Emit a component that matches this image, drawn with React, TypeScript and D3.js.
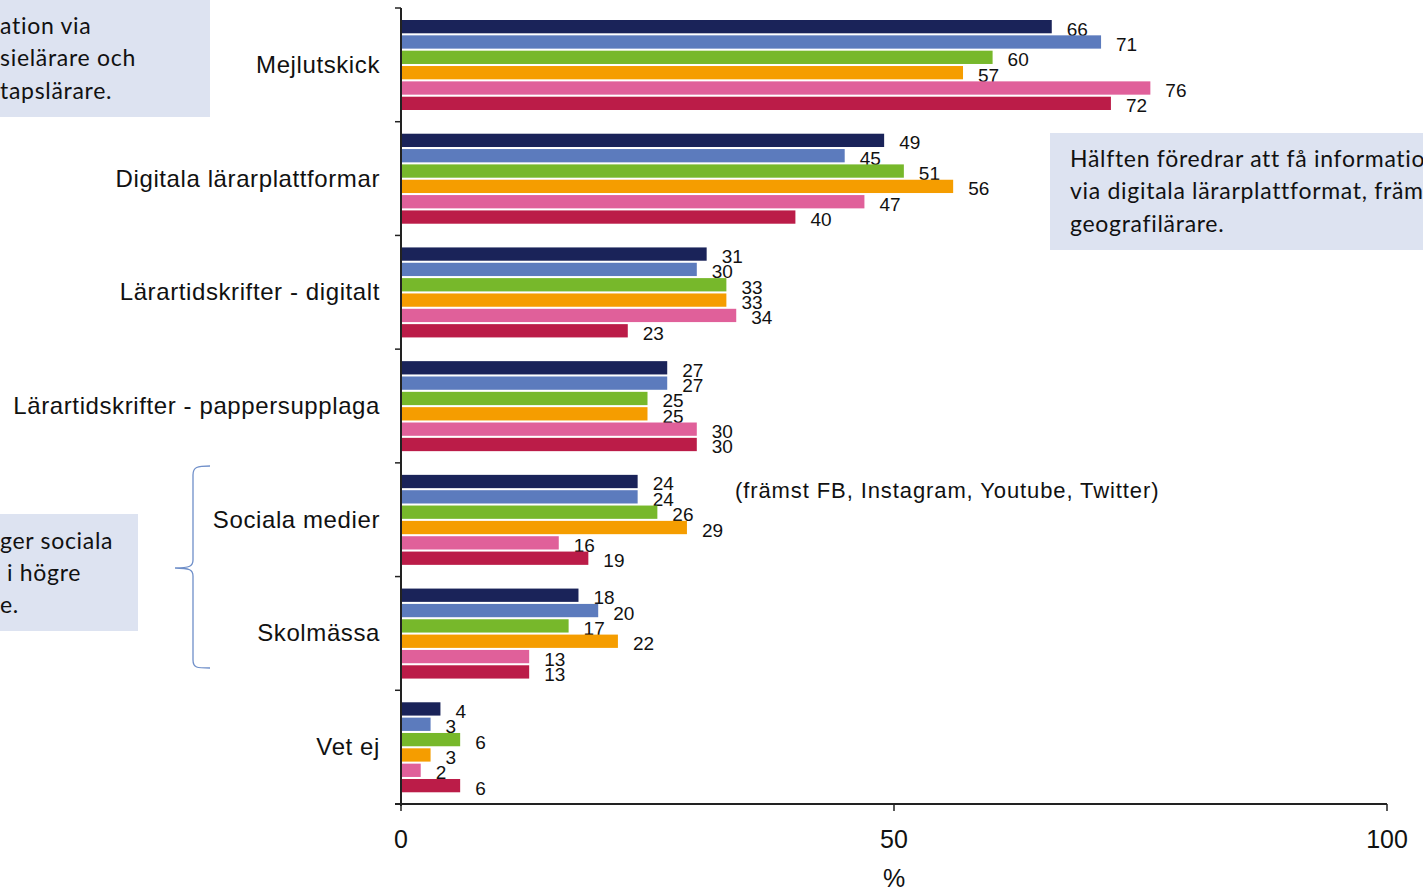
import * as d3 from "d3";

const categories = [
  "Mejlutskick",
  "Digitala lärarplattformar",
  "Lärartidskrifter - digitalt",
  "Lärartidskrifter - pappersupplaga",
  "Sociala medier",
  "Skolmässa",
  "Vet ej",
];

const seriesNames = ["s1", "s2", "s3", "s4", "s5", "s6"];
const seriesColors = ["#1a2359", "#5c7bbd", "#77b82b", "#f59d00", "#e0609a", "#bb1c48"];

const s1 = [66, 49, 31, 27, 24, 18, 4];
const s2 = [71, 45, 30, 27, 24, 20, 3];
const s3 = [60, 51, 33, 25, 26, 17, 6];
const s4 = [57, 56, 33, 25, 29, 22, 3];
const s5 = [76, 47, 34, 30, 16, 13, 2];
const s6 = [72, 40, 23, 30, 19, 13, 6];
const seriesValues = [s1, s2, s3, s4, s5, s6];

const xTicks = [0, 50, 100];

const W = 1423;
const H = 891;
const axisFont = "'Liberation Sans', Arial, sans-serif";
const boxFont = "Lato, 'Open Sans', sans-serif";

export default function App() {
  const x = d3.scaleLinear().domain([0, 100]).range([401, 1387]);
  const y = d3.scaleBand().domain(categories).range([8, 804]);
  const inner = d3.scaleBand().domain(seriesNames).range([12, 102]).paddingInner(2 / 15);
  const boundaries = d3.range(categories.length + 1).map((i) => 8 + i * y.step());

  return (
    <svg
      width={W}
      height={H}
      style={{ position: "absolute", left: 0, top: 0, display: "block", background: "#fff" }}
    >
      {/* annotation boxes */}
      <rect x={0} y={0} width={210} height={117} fill="#dde3f1" />
      <g fontFamily={boxFont} fontSize={23} letterSpacing={0.7} fill="#111">
        <text x={0} y={34}>ation via</text>
        <text x={0} y={66}>sielärare och</text>
        <text x={0} y={99}>tapslärare.</text>
      </g>

      <rect x={1050} y={133} width={380} height={117} fill="#dde3f1" />
      <g fontFamily={boxFont} fontSize={23} letterSpacing={0.7} fill="#111">
        <text x={1070} y={167}>Hälften föredrar att få information</text>
        <text x={1070} y={199}>via digitala lärarplattformat, främst</text>
        <text x={1070} y={232}>geografilärare.</text>
      </g>

      <rect x={0} y={514} width={138} height={117} fill="#dde3f1" />
      <g fontFamily={boxFont} fontSize={23} letterSpacing={0.7} fill="#111">
        <text x={0} y={549}>ger sociala</text>
        <text x={7} y={581}> i högre</text>
        <text x={0} y={613}>e.</text>
      </g>

      {/* brace */}
      <path
        d="M210,466 C197,466 193,467 193,475 L193,560 C193,566 190,568 175,568 C190,568 193,570 193,576 L193,660 C193,668 197,668 210,668"
        fill="none"
        stroke="#6f8fc9"
        strokeWidth={1.3}
      />

      {/* bars */}
      {categories.map((c, ci) => (
        <g key={c} transform={`translate(0,${y(c)})`}>
          {seriesNames.map((s, si) => {
            const v = seriesValues[si][ci];
            const by = inner(s)!;
            return (
              <g key={s}>
                <rect
                  x={x(0)}
                  y={by}
                  width={x(v) - x(0)}
                  height={inner.bandwidth()}
                  fill={seriesColors[si]}
                />
                <text
                  x={x(v) + 15}
                  y={by + inner.bandwidth() / 2 + 9}
                  fontFamily={axisFont}
                  fontSize={19}
                  fill="#111"
                >
                  {v}
                </text>
              </g>
            );
          })}
        </g>
      ))}

      {/* category labels */}
      {categories.map((c) => (
        <text
          key={c}
          x={380}
          y={y(c)! + y.bandwidth() / 2 + 8}
          textAnchor="end"
          fontFamily={axisFont}
          fontSize={24}
          letterSpacing={0.6}
          fill="#111"
        >
          {c}
        </text>
      ))}

      <text
        x={735}
        y={498}
        fontFamily={axisFont}
        fontSize={22}
        letterSpacing={0.9}
        fill="#111"
      >
        (främst FB, Instagram, Youtube, Twitter)
      </text>

      {/* y axis */}
      <line x1={401} y1={8} x2={401} y2={806} stroke="#222" strokeWidth={2} />
      {boundaries.map((b) => (
        <line key={b} x1={395} y1={b} x2={401} y2={b} stroke="#222" strokeWidth={1.5} />
      ))}

      {/* x axis */}
      <line x1={395} y1={804} x2={x(100)} y2={804} stroke="#222" strokeWidth={2} />
      {xTicks.map((t) => (
        <g key={t}>
          <line x1={x(t)} y1={804} x2={x(t)} y2={811} stroke="#222" strokeWidth={1.5} />
          <text
            x={x(t)}
            y={848}
            textAnchor="middle"
            fontFamily={axisFont}
            fontSize={25}
            fill="#111"
          >
            {t}
          </text>
        </g>
      ))}
      <text x={x(50)} y={887} textAnchor="middle" fontFamily={axisFont} fontSize={25} fill="#111">
        %
      </text>
    </svg>
  );
}
